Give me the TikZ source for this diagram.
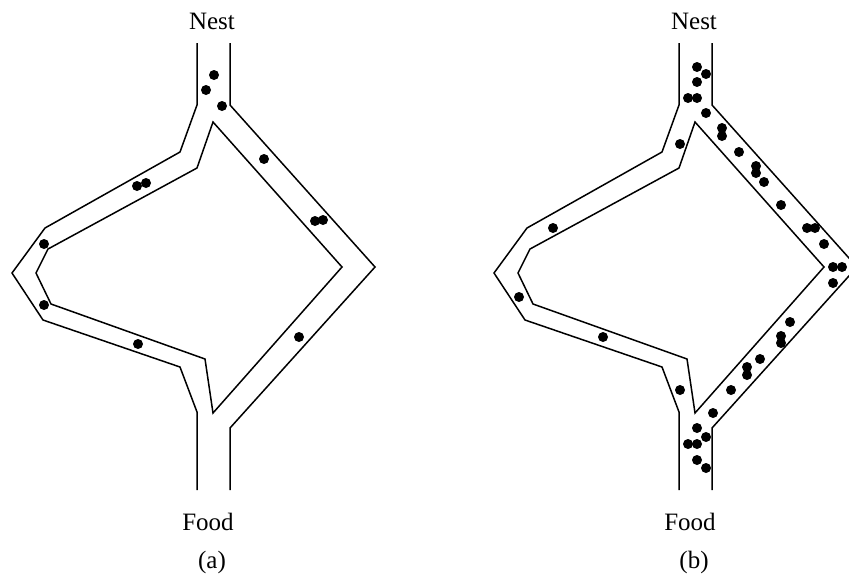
\documentclass[tikz,border=0pt]{standalone}
\usepackage{fontspec}
\setmainfont{Liberation Serif}

\begin{document}
\begin{tikzpicture}[
    x=0.5pt, y=-0.5pt,
    wall/.style={draw, line width=0.75pt, line join=miter},
    ant/.style={fill=black},
    label/.style={font=\fontsize{12.5}{15}\selectfont, inner sep=0pt}
]
\clip (0,0) rectangle (849,574);

% the bridge, drawn twice: (a) and (b) shifted right
\foreach \dx/\tag in {0/a, 482/b}{
  \begin{scope}[shift={(\dx,0)}]
    % outer walls
    \draw[wall] (197,43) -- (197,105) -- (180,152) -- (45,228) -- (12,273) -- (43,320)
                -- (180,367) -- (197,412) -- (197,490);
    \draw[wall] (230,43) -- (230,105) -- (375,267) -- (230,428) -- (230,490);
    % island between the short and the long branch
    \draw[wall] (213,122) -- (197,168) -- (48,249) -- (36,273) -- (51,304) -- (205,359)
                -- (213,413) -- (342,267) -- cycle;
    \node[label] (nest-\tag) at (212,21) {Nest};
    \node[label] (food-\tag) at (208,522) {Food};
    \node[label] (cap-\tag) at (212,562) {(\tag)};
  \end{scope}
}

% ants early on
\foreach \x/\y in {214/75, 206/90, 222/106, 264/159, 137/186, 146/183, 315/221, 323/220,
                   44/244, 44/305, 138/344, 299/337}
  \fill[ant] (\x,\y) circle (2.5pt);

% ants later, mostly on the short branch
\foreach \x/\y in {697/67, 706/74, 697/82, 688/98, 697/98, 706/113, 680/144, 553/228,
                   722/128, 722/136, 739/152, 756/166, 756/173, 764/182, 781/205,
                   807/228, 815/228, 824/244, 833/267, 842/267, 833/283,
                   519/297, 603/337, 680/390,
                   790/322, 781/336, 781/343, 760/359, 747/367, 747/375, 731/390, 713/413,
                   697/428, 706/437, 688/444, 697/444, 697/460, 706/468}
  \fill[ant] (\x,\y) circle (2.5pt);
\end{tikzpicture}
\end{document}
